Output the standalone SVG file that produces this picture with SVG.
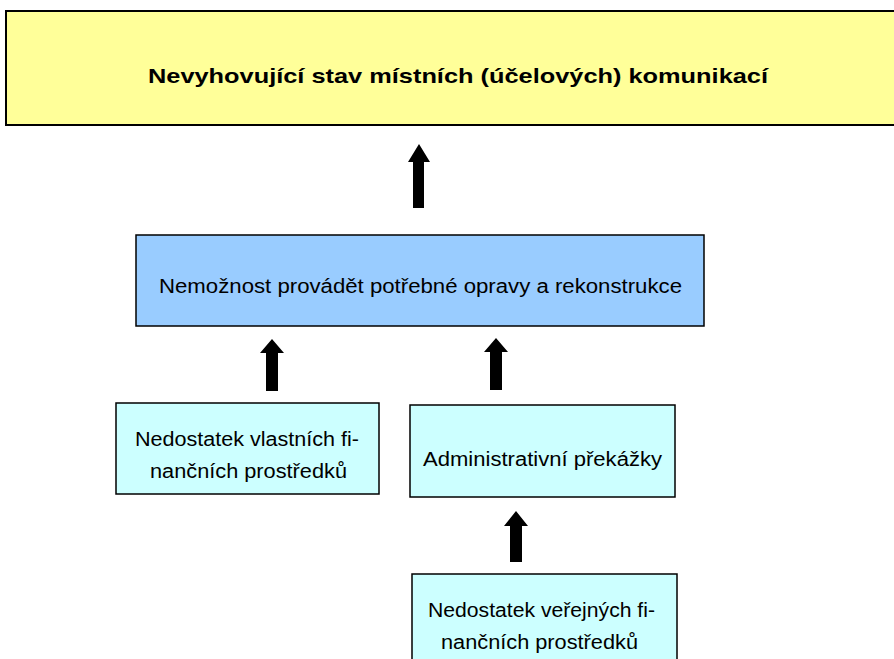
<svg xmlns="http://www.w3.org/2000/svg" width="894" height="659" viewBox="0 0 894 659">
<style>
.box{stroke:#000;stroke-width:1.5}
.t{font-family:"Liberation Sans",Arial,sans-serif;font-size:19.5px;fill:#000}
.b{font-weight:bold;font-size:21px}
.arr{fill:#000}
</style>
<rect x="0" y="0" width="894" height="659" fill="#fff"/>
<g id="n_top">
<rect x="6" y="11" width="900" height="114" fill="#FFFF99" stroke="#000" stroke-width="2"/>
<text class="t b" x="148" y="83" textLength="620" lengthAdjust="spacingAndGlyphs">Nevyhovující stav místních (účelových) komunikací</text>
</g>
<g id="n_blue">
<rect class="box" x="136" y="235" width="568" height="91" fill="#99CCFF"/>
<text class="t" x="159" y="293" textLength="523" lengthAdjust="spacingAndGlyphs">Nemožnost provádět potřebné opravy a rekonstrukce</text>
</g>
<g id="n_own">
<rect class="box" x="116" y="403" width="263" height="91" fill="#CCFFFF"/>
<text class="t" x="135" y="446" textLength="224" lengthAdjust="spacingAndGlyphs">Nedostatek vlastních fi-</text>
<text class="t" x="150" y="478" textLength="197" lengthAdjust="spacingAndGlyphs">nančních prostředků</text>
</g>
<g id="n_admin">
<rect class="box" x="410" y="405" width="265" height="92" fill="#CCFFFF"/>
<text class="t" x="423" y="466" textLength="239" lengthAdjust="spacingAndGlyphs">Administrativní překážky</text>
</g>
<g id="n_public">
<rect class="box" x="412" y="574" width="265" height="100" fill="#CCFFFF"/>
<text class="t" x="428" y="617" textLength="227" lengthAdjust="spacingAndGlyphs">Nedostatek veřejných fi-</text>
<text class="t" x="441" y="649" textLength="197" lengthAdjust="spacingAndGlyphs">nančních prostředků</text>
</g>
<g id="connectors">
<polygon class="arr" points="419,144 430,162 424,162 424,208 413,208 413,162 408,162"/>
<polygon class="arr" points="272,339 284,353 278,353 278,391 266,391 266,353 260,353"/>
<polygon class="arr" points="496,338 508,352 502,352 502,390 490,390 490,352 484,352"/>
<polygon class="arr" points="516,511 528,526 522,526 522,562 510,562 510,526 504,526"/>
</g>
</svg>
